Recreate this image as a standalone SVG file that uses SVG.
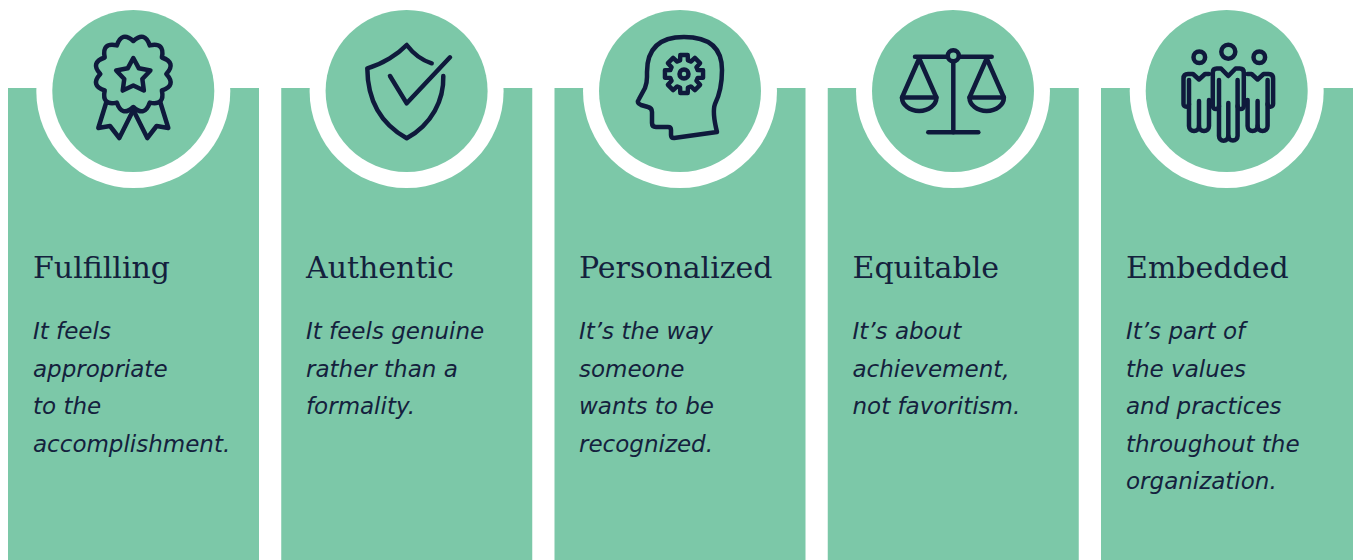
<svg xmlns="http://www.w3.org/2000/svg" width="1353" height="560" viewBox="0 0 1353 560">
<style>
.band{fill:#7cc8a8}
.ring{fill:#ffffff}
.disc{fill:#7cc8a8}
.ico{fill:none;stroke:#0f1a3c;stroke-width:4.5;stroke-linecap:round;stroke-linejoin:round}
.icof{fill:#7cc8a8;stroke:#0f1a3c;stroke-width:4.5;stroke-linecap:round;stroke-linejoin:round}
.title{font-family:"DejaVu Serif","Liberation Serif",serif;font-size:30px;fill:#14213d}
.body{font-family:"DejaVu Sans","Liberation Sans",sans-serif;font-style:italic;font-size:23px;fill:#14213d}
</style>
<rect width="1353" height="560" fill="#ffffff"/>
<g id="connectors"></g>

<g id="fulfilling">
<rect class="band" x="8" y="88" width="251" height="472"/>
<circle class="ring" cx="133.3" cy="91" r="97"/>
<circle class="disc" cx="133.3" cy="91" r="81"/>
<g class="ico">
<path d="M107,100 L98.3,128 L110,126 L119.3,138 L133.3,110"/>
<path d="M159.6,100 L168.3,128 L156.6,126 L147.3,138 L133.3,110"/>
<path class="icof" transform="translate(133.3,74)" d="M0,-33 Q11.39,-43.5 16.5,-28.58 Q31.8,-31.8 28.58,-16.5 Q43.5,-11.39 33,0 Q43.5,11.39 28.58,16.5 Q31.8,31.8 16.5,28.58 Q11.39,43.5 0,33 Q-11.39,43.5 -16.5,28.58 Q-31.8,31.8 -28.58,16.5 Q-43.5,11.39 -33,0 Q-43.5,-11.39 -28.58,-16.5 Q-31.8,-31.8 -16.5,-28.58 Q-11.39,-43.5 0,-33Z"/>
<path transform="translate(133.3,76)" d="M0,-18 L5.58,-7.69 L17.12,-5.56 L9.04,2.94 L10.58,14.56 L0,9.5 L-10.58,14.56 L-9.04,2.94 L-17.12,-5.56 L-5.58,-7.69Z"/>
</g>
<text class="title" x="33" y="278">Fulfilling</text>
<text class="body" x="33" y="339">It feels</text>
<text class="body" x="33" y="376.5">appropriate</text>
<text class="body" x="33" y="414">to the</text>
<text class="body" x="33" y="451.5">accomplishment.</text>
</g>

<g id="authentic">
<rect class="band" x="281.25" y="88" width="251" height="472"/>
<circle class="ring" cx="406.6" cy="91" r="97"/>
<circle class="disc" cx="406.6" cy="91" r="81"/>
<g class="ico">
<path d="M431.7,63.3 C421,60 412,52 406.7,45 C398,54 383,64 367.3,68.3 C367.5,100 381,124 406.7,138.3 C432,124 444,100 443.3,76"/>
<path d="M390,76 L406.7,103.3 L450,57.3"/>
</g>
<text class="title" x="306" y="278">Authentic</text>
<text class="body" x="306" y="339">It feels genuine</text>
<text class="body" x="306" y="376.5">rather than a</text>
<text class="body" x="306" y="414">formality.</text>
</g>

<g id="personalized">
<rect class="band" x="554.5" y="88" width="251" height="472"/>
<circle class="ring" cx="680" cy="91" r="97"/>
<circle class="disc" cx="680" cy="91" r="81"/>
<g class="ico">
<path d="M717,132 L674,138 Q671,138 671,135 L671,130 Q671,127 668,127 L656,127 Q652,127 652,123 L652,112 Q652,108 648,107 L641,105 Q636,103 639,99 L645,88 Q647,83 647,77 L647,72 Q647,37 684,37 Q722,37 722,70 Q722,90 715,104 Q712,112 717,132 Z"/>
<path transform="translate(684,74) scale(1.05)" d="M-3.72,-12.98 L-3.53,-18.16 L3.53,-18.16 L3.72,-12.98 A13.5,13.5 0 0 1 6.54,-11.81 L10.35,-15.34 L15.34,-10.35 L11.81,-6.54 A13.5,13.5 0 0 1 12.98,-3.72 L18.16,-3.53 L18.16,3.53 L12.98,3.72 A13.5,13.5 0 0 1 11.81,6.54 L15.34,10.35 L10.35,15.34 L6.54,11.81 A13.5,13.5 0 0 1 3.72,12.98 L3.53,18.16 L-3.53,18.16 L-3.72,12.98 A13.5,13.5 0 0 1 -6.54,11.81 L-10.35,15.34 L-15.34,10.35 L-11.81,6.54 A13.5,13.5 0 0 1 -12.98,3.72 L-18.16,3.53 L-18.16,-3.53 L-12.98,-3.72 A13.5,13.5 0 0 1 -11.81,-6.54 L-15.34,-10.35 L-10.35,-15.34 L-6.54,-11.81 A13.5,13.5 0 0 1 -3.72,-12.98 Z" style="stroke-width:4.2"/>
<circle cx="684" cy="74" r="4.5"/>
</g>
<text class="title" x="579" y="278">Personalized</text>
<text class="body" x="579" y="339">It’s the way</text>
<text class="body" x="579" y="376.5">someone</text>
<text class="body" x="579" y="414">wants to be</text>
<text class="body" x="579" y="451.5">recognized.</text>
</g>

<g id="equitable">
<rect class="band" x="827.75" y="88" width="251" height="472"/>
<circle class="ring" cx="953" cy="91" r="97"/>
<circle class="disc" cx="953" cy="91" r="81"/>
<g class="ico">
<path d="M915,56.7 L991.7,56.7"/>
<path d="M953.3,61 L953.3,132.3"/>
<path d="M928.3,132.3 L978.3,132.3"/>
<path d="M902,97.5 L919.2,58.5 L936.4,97.5"/>
<path d="M902,97.5 L936.4,97.5 A17.2,13.5 0 0 1 902,97.5 Z"/>
<path d="M969.5,97.5 L986.7,58.5 L1003.9,97.5"/>
<path d="M969.5,97.5 L1003.9,97.5 A17.2,13.5 0 0 1 969.5,97.5 Z"/>
<circle class="icof" cx="953.3" cy="55.8" r="5.5"/>
</g>
<text class="title" x="852.5" y="278">Equitable</text>
<text class="body" x="852.5" y="339">It’s about</text>
<text class="body" x="852.5" y="376.5">achievement,</text>
<text class="body" x="852.5" y="414">not favoritism.</text>
</g>

<g id="embedded">
<rect class="band" x="1101" y="88" width="252" height="472"/>
<circle class="ring" cx="1226.7" cy="91" r="97"/>
<circle class="disc" cx="1226.7" cy="91" r="81"/>
<g class="ico">
<g id="person-left">
<circle cx="1199.3" cy="57.3" r="5.8"/>
<path d="M1209,74 L1205,74 L1199,79.5 L1193,74 L1188,74 Q1183.5,74 1183.5,78.5 L1183.5,104 A2.75,2.75 0 0 0 1189,104"/>
<path d="M1189,80 L1189,126 A5,5 0 0 0 1199,126 A5,5 0 0 0 1209,126 L1209,100"/>
<path d="M1199,101 L1199,126"/>
</g>
<g transform="translate(2456.6,0) scale(-1,1)">
<circle cx="1197.3" cy="57.3" r="5.8"/>
<path d="M1209,74 L1205,74 L1199,79.5 L1193,74 L1188,74 Q1183.5,74 1183.5,78.5 L1183.5,104 A2.75,2.75 0 0 0 1189,104"/>
<path d="M1189,80 L1189,126 A5,5 0 0 0 1199,126 A5,5 0 0 0 1209,126 L1209,100"/>
<path d="M1199,101 L1199,126"/>
</g>
<circle cx="1228.3" cy="51.7" r="7"/>
<path d="M1219,80 L1219,136 A4.65,4.65 0 0 0 1228.3,136 A4.65,4.65 0 0 0 1237.6,136 L1237.6,80"/>
<path d="M1228.3,103 L1228.3,136"/>
<path d="M1219,106 A3.1,3.1 0 0 1 1212.8,106 L1212.8,72.5 Q1212.8,68.5 1216.8,68.5 L1221,68.5 L1228.3,76 L1235.6,68.5 L1239.8,68.5 Q1243.8,68.5 1243.8,72.5 L1243.8,106 A3.1,3.1 0 0 1 1237.6,106"/>
</g>
<text class="title" x="1126" y="278">Embedded</text>
<text class="body" x="1126" y="339">It’s part of</text>
<text class="body" x="1126" y="376.5">the values</text>
<text class="body" x="1126" y="414">and practices</text>
<text class="body" x="1126" y="451.5">throughout the</text>
<text class="body" x="1126" y="489">organization.</text>
</g>
</svg>
